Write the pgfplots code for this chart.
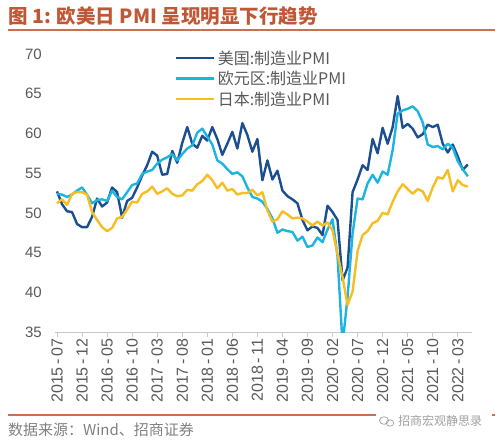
\documentclass[border=0pt]{standalone}
\usepackage{pgfplots}
\pgfplotsset{compat=1.18}
\usepackage{pgfplotstable}
\usepackage{fontspec}
\setmainfont{Liberation Sans}
\newfontfamily\cjk{Noto Sans CJK SC}
\definecolor{usblue}{HTML}{1B4F8F}
\definecolor{eucyan}{HTML}{1EB4E0}
\definecolor{jpgold}{HTML}{F5BE23}
\definecolor{titlecol}{HTML}{C05838}
\definecolor{rulecol}{HTML}{C8704F}
\definecolor{tickgray}{HTML}{595959}
\definecolor{axisgray}{HTML}{C8C8C8}
\definecolor{footgray}{HTML}{808080}
\definecolor{wmgray}{HTML}{A0A0A0}
\pgfplotstableread{
idx us eu jp
0 52.7 52.4 51.2
1 51.1 52.3 51.7
2 50.2 52.0 51.0
3 50.1 52.3 52.4
4 48.6 52.8 52.6
5 48.2 53.2 52.6
6 48.2 52.3 52.3
7 49.5 51.2 50.1
8 51.8 51.6 49.1
9 50.8 51.7 48.2
10 51.3 51.5 47.7
11 53.2 52.8 48.1
12 52.6 52.0 49.3
13 49.4 51.7 49.5
14 51.5 52.6 50.4
15 51.9 53.5 51.4
16 53.2 53.7 51.3
17 54.7 54.9 52.4
18 56.0 55.2 52.7
19 57.7 55.4 53.3
20 57.2 56.2 52.4
21 54.8 56.7 52.7
22 54.9 57.0 53.1
23 57.8 57.4 52.4
24 56.3 56.6 52.1
25 58.8 57.4 52.2
26 60.8 58.1 52.9
27 58.7 58.5 52.8
28 58.2 60.1 53.6
29 59.7 60.6 54.0
30 59.1 59.6 54.8
31 60.8 58.6 54.1
32 59.3 56.6 53.1
33 57.3 56.2 53.8
34 58.7 55.5 52.8
35 60.2 54.9 53.0
36 58.1 55.1 52.3
37 61.3 54.6 52.5
38 59.8 53.2 52.5
39 57.7 52.0 52.9
40 59.3 51.8 52.2
41 54.1 51.4 52.6
42 56.6 50.5 50.3
43 54.2 49.3 48.9
44 55.3 47.5 49.2
45 52.8 47.9 50.2
46 52.1 47.7 49.8
47 51.7 47.6 49.3
48 51.2 46.5 49.4
49 49.1 47.0 49.3
50 47.8 45.7 48.9
51 48.3 45.9 48.4
52 48.1 46.9 48.9
53 47.2 46.3 48.4
54 50.9 47.9 48.8
55 50.1 49.2 47.8
56 49.1 44.5 44.8
57 41.5 33.4 41.9
58 43.1 39.4 38.4
59 52.6 47.4 40.1
60 54.2 51.8 45.2
61 56.0 51.7 47.2
62 55.4 53.7 47.7
63 59.3 54.8 48.7
64 57.5 53.8 49.0
65 60.7 55.2 50.0
66 58.7 54.8 49.8
67 60.8 57.9 51.4
68 64.7 62.5 52.7
69 60.7 62.9 53.6
70 61.2 63.1 53.0
71 60.6 63.4 52.4
72 59.5 62.8 53.0
73 59.9 61.4 52.7
74 61.1 58.6 51.5
75 60.8 58.3 53.2
76 61.1 58.4 54.5
77 58.7 58.0 54.3
78 57.6 58.7 55.4
79 58.6 58.2 52.7
80 57.1 56.5 54.1
81 55.4 55.5 53.5
82 56.1 54.6 53.3
}\pmidata
\begin{document}
\begin{tikzpicture}[x=1pt,y=1pt]
\useasboundingbox (0,0) rectangle (500,442);
\node[anchor=west, inner sep=0pt, text=titlecol, font=\cjk\bfseries\fontsize{19.5}{20}\selectfont] at (8,426) {图 1: 欧美日 PMI 呈现明显下行趋势};
\draw[rulecol, line width=1.5pt] (8,412) -- (495,412);
\draw[rulecol, line width=1.2pt] (8,27) -- (495,27);
\node[anchor=west, inner sep=0pt, text=footgray, font=\cjk\fontsize{15}{15}\selectfont] at (8,12) {数据来源：Wind、招商证券};
\fill[white] (376,14) rectangle (492,28);
\draw[wmgray, line width=0.7pt] (384,21.5) ellipse (4.5pt and 3.8pt);
\draw[wmgray, line width=0.7pt] (390,19) ellipse (3.8pt and 3.2pt);
\node[anchor=west, inner sep=0pt, text=wmgray, font=\cjk\fontsize{12}{12}\selectfont] at (398,21) {招商宏观静思录};
\begin{axis}[
  at={(55.5pt,110pt)}, anchor=south west,
  scale only axis, width=416.3pt, height=278pt,
  xmin=-0.3, xmax=82.8, ymin=35, ymax=70,
  axis x line*=bottom, axis y line*=left,
  y axis line style={draw=none},
  x axis line style={draw=axisgray, line width=0.8pt, -},
  xtick={0,5,...,80},
  xticklabels={2015\,-\,07,2015\,-\,12,2016\,-\,05,2016\,-\,10,2017\,-\,03,2017\,-\,08,2018\,-\,01,2018\,-\,06,2018\,-\,11,2019\,-\,04,2019\,-\,09,2020\,-\,02,2020\,-\,07,2020\,-\,12,2021\,-\,05,2021\,-\,10,2022\,-\,03},
  x tick style={draw=axisgray, line width=0.8pt},
  tick align=outside, major tick length=5pt,
  ytick={35,40,...,70},
  y tick style={draw=none},
  yticklabel style={font=\fontsize{15}{15}\selectfont, text=tickgray, inner sep=0pt, xshift=-8.5pt},
  xticklabel style={rotate=90, anchor=east, font=\fontsize{16}{16}\selectfont, text=tickgray, inner sep=1.5pt},
  /pgf/number format/assume math mode=true,
  legend style={at={(axis description cs:0.287,1.02)}, anchor=north west, draw=none, fill=none,
    font=\cjk\fontsize{16}{16}\selectfont, text=tickgray, row sep=1.5pt, inner sep=0pt,
    nodes={inner sep=2pt}},
  legend cell align=left,
  legend image code/.code={\draw[#1, line width=2.6pt] (0pt,0pt) -- (38pt,0pt);},
]
\addplot[usblue, line width=2.4pt, line join=round] table[x=idx, y=us] {\pmidata};
\addlegendentry{美国:制造业PMI}
\addplot[eucyan, line width=2.4pt, line join=round] table[x=idx, y=eu] {\pmidata};
\addlegendentry{欧元区:制造业PMI}
\addplot[jpgold, line width=2.4pt, line join=round] table[x=idx, y=jp] {\pmidata};
\addlegendentry{日本:制造业PMI}
\end{axis}
\end{tikzpicture}
\end{document}
